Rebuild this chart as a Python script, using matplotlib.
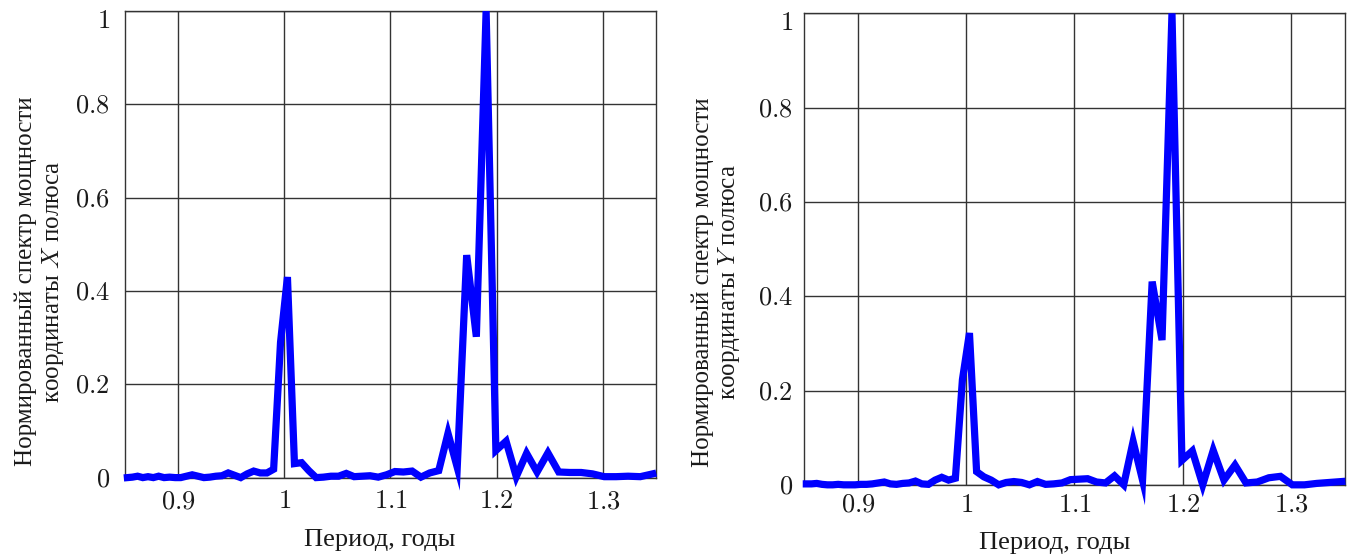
import matplotlib
matplotlib.use("Agg")
import matplotlib.pyplot as plt
from matplotlib.ticker import FuncFormatter

plt.rcParams['font.family'] = ['Liberation Serif', 'DejaVu Serif']
plt.rcParams['mathtext.fontset'] = 'cm'

# period grid, years
period = [0.8523, 0.8571, 0.8619, 0.8668, 0.8717, 0.8767, 0.8817, 0.8868, 0.8920, 0.8973,
          0.9025, 0.9079, 0.9133, 0.9188, 0.9243, 0.9299, 0.9356, 0.9413, 0.9472, 0.9531,
          0.9590, 0.9651, 0.9712, 0.9774, 0.9837, 0.9900, 0.9965, 1.0030, 1.0096, 1.0163,
          1.0231, 1.0300, 1.0369, 1.0440, 1.0512, 1.0584, 1.0658, 1.0733, 1.0808, 1.0885,
          1.0963, 1.1042, 1.1122, 1.1204, 1.1287, 1.1370, 1.1455, 1.1542, 1.1629, 1.1718,
          1.1809, 1.1901, 1.1993, 1.2089, 1.2185, 1.2282, 1.2381, 1.2483, 1.2585, 1.2689,
          1.2796, 1.2903, 1.3013, 1.3125, 1.3238, 1.3353, 1.3470]

# normalised power spectrum, X coordinate of the pole
spec_x = [0.000, 0.001, 0.003, 0.000, 0.002, 0.000, 0.003, 0.000, 0.001, 0.000,
          0.000, 0.003, 0.006, 0.003, 0.000, 0.001, 0.003, 0.004, 0.010, 0.005,
          0.000, 0.008, 0.014, 0.010, 0.010, 0.018, 0.290, 0.430, 0.030, 0.032,
          0.015, 0.000, 0.001, 0.003, 0.003, 0.009, 0.002, 0.003, 0.004, 0.001,
          0.006, 0.013, 0.012, 0.014, 0.001, 0.010, 0.015, 0.095, 0.022, 0.477,
          0.302, 1.000, 0.058, 0.078, 0.002, 0.052, 0.012, 0.053, 0.012, 0.011,
          0.011, 0.008, 0.002, 0.002, 0.003, 0.002, 0.008]

# normalised power spectrum, Y coordinate of the pole
spec_y = [0.002, 0.002, 0.003, 0.001, 0.000, 0.000, 0.001, 0.000, 0.000, 0.000,
          0.001, 0.001, 0.002, 0.004, 0.006, 0.002, 0.001, 0.003, 0.004, 0.008,
          0.002, 0.001, 0.010, 0.016, 0.010, 0.014, 0.223, 0.322, 0.028, 0.017,
          0.010, 0.000, 0.005, 0.007, 0.005, 0.000, 0.007, 0.001, 0.002, 0.004,
          0.011, 0.012, 0.013, 0.006, 0.004, 0.019, 0.000, 0.092, 0.010, 0.431,
          0.307, 1.000, 0.052, 0.072, 0.000, 0.073, 0.010, 0.042, 0.004, 0.006,
          0.015, 0.018, 0.000, 0.000, 0.003, 0.005, 0.007]

x_ticks = [0.9, 1.0, 1.1, 1.2, 1.3]
y_ticks = [0, 0.2, 0.4, 0.6, 0.8, 1.0]

xlabel = "Период, годы"
ylabels = ["Нормированный спектр мощности\nкоординаты $X$ полюса",
           "Нормированный спектр мощности\nкоординаты $Y$ полюса"]


def fmt(v, pos):
    s = "%g" % round(v, 2)
    return "$" + s + "$"


fig = plt.figure(figsize=(13.51, 5.56), dpi=100)
ax1 = fig.add_axes([0.0925, 0.141, 0.393, 0.839])
ax2 = fig.add_axes([0.595, 0.128, 0.4006, 0.848])

setups = [
    (ax1, spec_x, ylabels[0], (-0.16, 0.42), (0.48, -0.134), 11, 10),
    (ax2, spec_y, ylabels[1], (-0.161, 0.43), (0.464, -0.123), 8, 7),
]

for ax, data, ylab, ylc, xlc, ypad, xpad in setups:
    ax.plot(period, data, color='#0000ff', linewidth=5.2, clip_on=False,
            solid_joinstyle='miter', zorder=3)
    ax.set_xlim(0.85, 1.35)
    ax.set_ylim(0, 1)
    ax.set_xticks(x_ticks)
    ax.set_yticks(y_ticks)
    ax.xaxis.set_major_formatter(FuncFormatter(fmt))
    ax.yaxis.set_major_formatter(FuncFormatter(fmt))
    ax.tick_params(axis='both', length=0, labelsize=19, colors='#1a1a1a')
    ax.tick_params(axis='y', pad=ypad)
    ax.tick_params(axis='x', pad=xpad)
    # top label sits a little below the frame in the original
    ax.get_yticklabels()[-1].set_va('top')
    ax.grid(True, color='#333333', linewidth=1.0)
    for sp in ax.spines.values():
        sp.set_color('#333333')
        sp.set_linewidth(1.0)
    ax.set_ylabel(ylab, fontsize=18, color='#1a1a1a', linespacing=1.15, va='center')
    ax.yaxis.set_label_coords(*ylc)
    ax.set_xlabel(xlabel, fontsize=19, color='#1a1a1a', va='center')
    ax.xaxis.set_label_coords(*xlc)

fig.savefig("out.png", dpi=100)
